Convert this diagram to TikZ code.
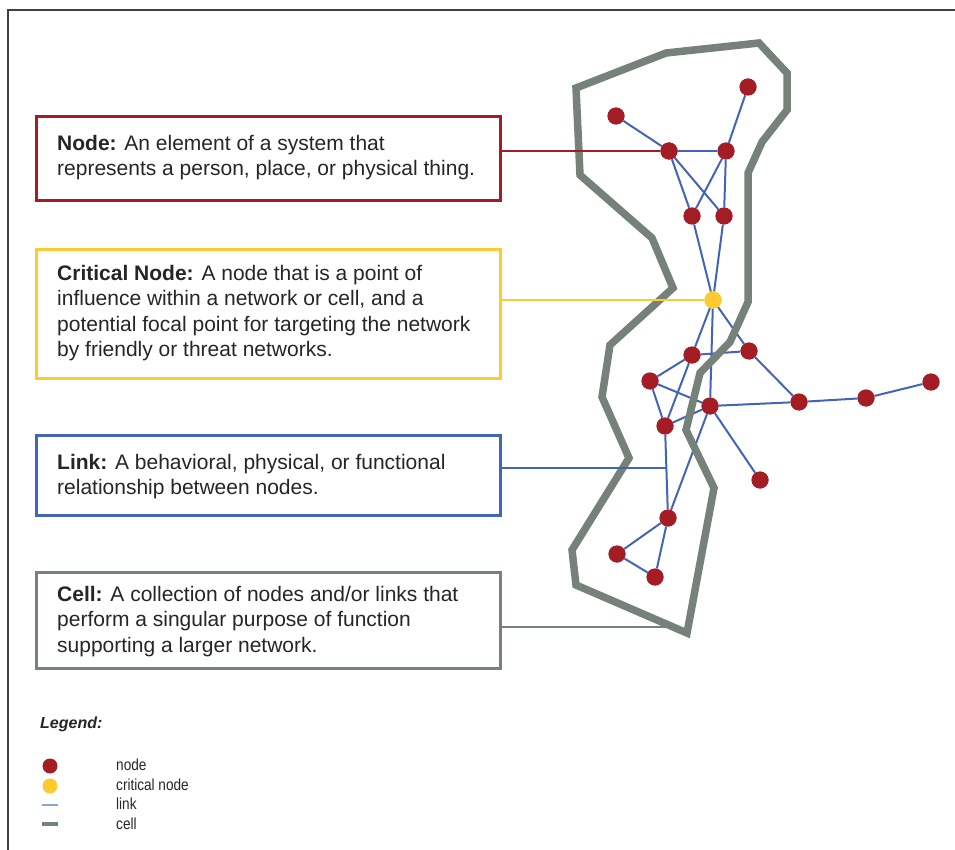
\documentclass[tikz,border=0pt]{standalone}
\usepackage{fontspec}
\setmainfont{Liberation Sans}
\newfontfamily\legendfont[FakeStretch=0.85]{Liberation Sans}
\usetikzlibrary{calc}

\definecolor{nodered}{HTML}{A51D24}
\definecolor{crityellow}{HTML}{FDCA2F}
\definecolor{linkblue}{HTML}{4464B8}
\definecolor{linklight}{HTML}{8CA4D6}
\definecolor{cellgray}{HTML}{76817A}
\definecolor{framegray}{HTML}{404040}
\definecolor{textgray}{HTML}{262626}

\tikzset{
  netnode/.style={circle, fill=nodered, minimum size=17pt, inner sep=0pt},
  critnode/.style={circle, fill=crityellow, minimum size=17pt, inner sep=0pt},
  linkline/.style={draw=linkblue, line width=2pt},
  cellline/.style={draw=cellgray, line width=7.5pt, line join=miter},
  defbox/.style={draw, line width=3pt, minimum width=464pt, inner sep=0pt},
  deftext/.style={anchor=west, align=left, inner sep=0pt, text=textgray,
    font=\fontsize{21}{25.5}\selectfont},
  legtext/.style={anchor=west, inner sep=0pt, text=textgray,
    font=\legendfont\fontsize{16}{18}\selectfont},
  legdot/.style={circle, minimum size=15pt, inner sep=0pt},
}

\begin{document}
\begin{tikzpicture}[x=1pt, y=-1pt]
\useasboundingbox (0,0) rectangle (955,850);
\fill[white] (0,0) rectangle (955,850);

% outer frame
\draw[framegray, line width=2.2pt] (955,10) -- (8,10) -- (8,850);

% network nodes
\node[netnode] (n1) at (616,116) {};
\node[netnode] (n2) at (748,87) {};
\node[netnode] (n3) at (669,151) {};
\node[netnode] (n4) at (726,151) {};
\node[netnode] (n5) at (692,216) {};
\node[netnode] (n6) at (724,216) {};
\node[critnode] (crit) at (713,300) {};
\node[netnode] (a) at (692,355) {};
\node[netnode] (b) at (749,351) {};
\node[netnode] (d) at (650,381) {};
\node[netnode] (e) at (710,406) {};
\node[netnode] (f) at (799,402) {};
\node[netnode] (g) at (866,398) {};
\node[netnode] (h) at (931,382) {};
\node[netnode] (i) at (665,426) {};
\node[netnode] (j) at (760,480) {};
\node[netnode] (k) at (668,518) {};
\node[netnode] (l) at (617,554) {};
\node[netnode] (m) at (655,577) {};

% links
\draw[linkline] (n1) -- (n3);
\draw[linkline] (n2) -- (n4);
\draw[linkline] (n3) -- (n4);
\draw[linkline] (n3) -- (n5);
\draw[linkline] (n3) -- (n6);
\draw[linkline] (n4) -- (n5);
\draw[linkline] (n4) -- (n6);
\draw[linkline] (n5) -- (crit);
\draw[linkline] (n6) -- (crit);
\draw[linkline] (crit) -- (a);
\draw[linkline] (crit) -- (e);
\draw[linkline] (crit) -- (b);
\draw[linkline] (a) -- (b);
\draw[linkline] (a) -- (d);
\draw[linkline] (a) -- (i);
\draw[linkline] (d) -- (e);
\draw[linkline] (d) -- (i);
\draw[linkline] (i) -- (e);
\draw[linkline] (e) -- (f);
\draw[linkline] (b) -- (f);
\draw[linkline] (f) -- (g);
\draw[linkline] (g) -- (h);
\draw[linkline] (e) -- (j);
\draw[linkline] (e) -- (k);
\draw[linkline] (i) -- (k);
\draw[linkline] (k) -- (l);
\draw[linkline] (k) -- (m);
\draw[linkline] (l) -- (m);

% cell outline
\draw[cellline] (576,88) -- (666,53) -- (759,43) -- (787,73) -- (787,110)
  -- (762,142) -- (748,173) -- (748,302) -- (730,342) -- (700,373)
  -- (686,430) -- (714,488) -- (687,633) -- (576,585) -- (572,550)
  -- (629,458) -- (602,397) -- (610,345) -- (673,288) -- (652,238)
  -- (580,175) -- cycle;

% redraw nodes above the outline
\foreach \p in {n1,n2,n3,n4,n5,n6,a,b,d,e,f,g,h,i,j,k,l,m}
  \fill[nodered] (\p) circle (8.5pt);
\fill[crityellow] (crit) circle (8.5pt);

% definition boxes
\node[defbox, draw=nodered, minimum height=84pt] (nodebox) at (268.5,158.5) {};
\node[deftext] (nodetxt) at ([xshift=22pt,yshift=1pt]nodebox.west)
  {\textbf{Node:} An element of a system that\\represents a person, place, or physical thing.};

\node[defbox, draw=crityellow, minimum height=129pt] (critbox) at (268.5,314) {};
\node[deftext] (crittxt) at ([xshift=22pt,yshift=1pt]critbox.west)
  {\textbf{Critical Node:} A node that is a point of\\influence within a network or cell, and a\\potential focal point for targeting the network\\by friendly or threat networks.};

\node[defbox, draw=linkblue, minimum height=80pt] (linkbox) at (268.5,475.5) {};
\node[deftext] (linktxt) at ([xshift=22pt,yshift=-1pt]linkbox.west)
  {\textbf{Link:} A behavioral, physical, or functional\\relationship between nodes.};

\node[defbox, draw=cellgray, minimum height=96pt] (cellbox) at (268.5,620.5) {};
\node[deftext] (celltxt) at ([xshift=22pt,yshift=-1pt]cellbox.west)
  {\textbf{Cell:} A collection of nodes and/or links that\\perform a singular purpose of function\\supporting a larger network.};

% connectors from boxes to the network
\coordinate (linkpt) at ($(i)!0.457!(k)$);
\coordinate (cellpt) at (672,627);
\draw[nodered, line width=1.7pt] (n3 -| nodebox.east) -- (n3);
\draw[crityellow, line width=1.7pt] (crit -| critbox.east) -- (crit);
\draw[linkblue, line width=1.7pt] (linkpt -| linkbox.east) -- (linkpt);
\draw[cellgray, line width=1.7pt] (cellpt -| cellbox.east) -- (cellpt);
\fill[nodered] (n3) circle (8.5pt);
\fill[crityellow] (crit) circle (8.5pt);

% legend
\node[anchor=west, inner sep=0pt, text=textgray,
  font=\fontsize{16}{18}\selectfont\bfseries\itshape] (legtitle) at (40,724) {Legend:};
\node[legdot, fill=nodered] (legnode) at (50,766) {};
\node[legdot, fill=crityellow] (legcrit) at (50,786) {};
\coordinate (leglinkA) at (42,805);
\coordinate (leglinkB) at (58,805);
\coordinate (legcellA) at (42,824);
\coordinate (legcellB) at (58,824);
\draw[linklight, line width=1.6pt] (leglinkA) -- (leglinkB);
\draw[cellgray, line width=3.5pt] (legcellA) -- (legcellB);
\node[legtext] (lnode) at (116,765) {node};
\node[legtext] (lcrit) at (116,785) {critical node};
\node[legtext] (llink) at (116,804) {link};
\node[legtext] (lcell) at (116,824) {cell};
\end{tikzpicture}
\end{document}
